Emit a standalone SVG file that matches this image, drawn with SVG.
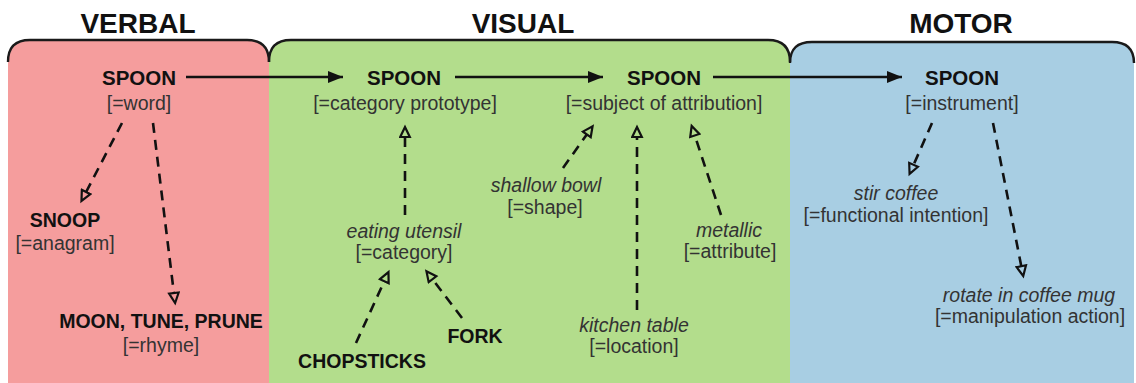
<svg xmlns="http://www.w3.org/2000/svg" width="1136" height="383" viewBox="0 0 1136 383">
<style>
text{font-family:"Liberation Sans",Arial,Helvetica,sans-serif;text-anchor:middle}
.title{font-size:28px;font-weight:bold;fill:#111}
.b{font-size:19.5px;font-weight:bold;fill:#111}
.s{font-size:20.5px;font-weight:bold;fill:#111}
.r{font-size:19.5px;fill:#333}
.i{font-size:19.5px;font-style:italic;fill:#333}
.top{fill:none;stroke:#1a1a1a;stroke-width:2.4}
.solid{fill:none;stroke:#111;stroke-width:2.4}
.dash{fill:none;stroke:#111;stroke-width:2.6;stroke-dasharray:10 7}
</style>
<defs>
<marker id="filled" markerUnits="userSpaceOnUse" markerWidth="16" markerHeight="14" viewBox="0 0 16 14" refX="15" refY="7" orient="auto">
<path d="M0,1 L15,7 L0,13 Z" fill="#111"/>
</marker>
<marker id="hollow" markerUnits="userSpaceOnUse" markerWidth="15" markerHeight="13" viewBox="-1.5 -6.5 15 13" refX="0" refY="0" orient="auto">
<path d="M0,-4.8 L10,0 L0,4.8 Z" fill="none" stroke="#111" stroke-width="2.2" stroke-linejoin="miter"/>
</marker>
</defs>
<g id="panels">
<path d="M8,383 V62 Q8,40 30,40 H247 Q269,40 269,62 V383 Z" fill="#f59d9d"/>
<path d="M269,383 V62 Q269,40 291,40 H768 Q790,40 790,62 V383 Z" fill="#b3dd8c"/>
<path d="M790,383 V63 Q790,42 812,42 H1112 Q1134,42 1134,63 V383 Z" fill="#a8cee3"/>
<path class="top" d="M8,62 Q8,40 30,40 H247 Q269,40 269,62"/>
<path class="top" d="M269,62 Q269,40 291,40 H768 Q790,40 790,62"/>
<path class="top" d="M790,63 Q790,42 812,42 H1112 Q1134,42 1134,63"/>
<text class="title" x="138" y="33">VERBAL</text>
<text class="title" x="523" y="33">VISUAL</text>
<text class="title" x="961" y="33">MOTOR</text>
</g>
<g id="connectors">
<line class="solid" x1="186" y1="77" x2="343" y2="77" marker-end="url(#filled)"/>
<line class="solid" x1="455" y1="77" x2="603" y2="77" marker-end="url(#filled)"/>
<line class="solid" x1="713" y1="77" x2="902" y2="77" marker-end="url(#filled)"/>
<line class="dash" x1="122" y1="123" x2="86.1" y2="192" marker-end="url(#hollow)"/>
<line class="dash" x1="153" y1="123" x2="173.9" y2="293.1" marker-end="url(#hollow)"/>
<line class="dash" x1="405" y1="215" x2="405" y2="137" marker-end="url(#hollow)"/>
<line class="dash" x1="356" y1="343" x2="384.3" y2="281.2" marker-end="url(#hollow)"/>
<line class="dash" x1="462" y1="318" x2="432.5" y2="279.2" marker-end="url(#hollow)"/>
<line class="dash" x1="563" y1="168" x2="586.8" y2="134.4" marker-end="url(#hollow)"/>
<line class="dash" x1="637" y1="310" x2="637" y2="137" marker-end="url(#hollow)"/>
<line class="dash" x1="721" y1="215" x2="694.8" y2="135.5" marker-end="url(#hollow)"/>
<line class="dash" x1="932" y1="123" x2="913.6" y2="164.8" marker-end="url(#hollow)"/>
<line class="dash" x1="993" y1="123" x2="1021.3" y2="266.2" marker-end="url(#hollow)"/>
</g>
<g id="spoon-word"><text class="s" x="139" y="85">SPOON</text><text class="r" x="139" y="110">[=word]</text></g>
<g id="spoon-category-prototype"><text class="s" x="404" y="85">SPOON</text><text class="r" x="405" y="110">[=category prototype]</text></g>
<g id="spoon-subject"><text class="s" x="664" y="85">SPOON</text><text class="r" x="664" y="110">[=subject of attribution]</text></g>
<g id="spoon-instrument"><text class="s" x="962" y="85">SPOON</text><text class="r" x="962" y="110">[=instrument]</text></g>
<g id="snoop"><text class="b" x="65" y="227">SNOOP</text><text class="r" x="65" y="250">[=anagram]</text></g>
<g id="moon-tune-prune"><text class="b" x="161" y="328">MOON, TUNE, PRUNE</text><text class="r" x="161" y="352">[=rhyme]</text></g>
<g id="eating-utensil"><text class="i" x="404" y="238">eating utensil</text><text class="r" x="404" y="259">[=category]</text></g>
<g id="chopsticks"><text class="b" x="362" y="368">CHOPSTICKS</text></g>
<g id="fork"><text class="b" x="475" y="343">FORK</text></g>
<g id="shallow-bowl"><text class="i" x="546" y="192">shallow bowl</text><text class="r" x="545" y="214">[=shape]</text></g>
<g id="kitchen-table"><text class="i" x="634" y="332">kitchen table</text><text class="r" x="634" y="353">[=location]</text></g>
<g id="metallic"><text class="i" x="729" y="237">metallic</text><text class="r" x="730" y="258">[=attribute]</text></g>
<g id="stir-coffee"><text class="i" x="896" y="200">stir coffee</text><text class="r" x="896" y="222">[=functional intention]</text></g>
<g id="rotate"><text class="i" x="1029" y="302">rotate in coffee mug</text><text class="r" x="1030" y="323">[=manipulation action]</text></g>
</svg>
